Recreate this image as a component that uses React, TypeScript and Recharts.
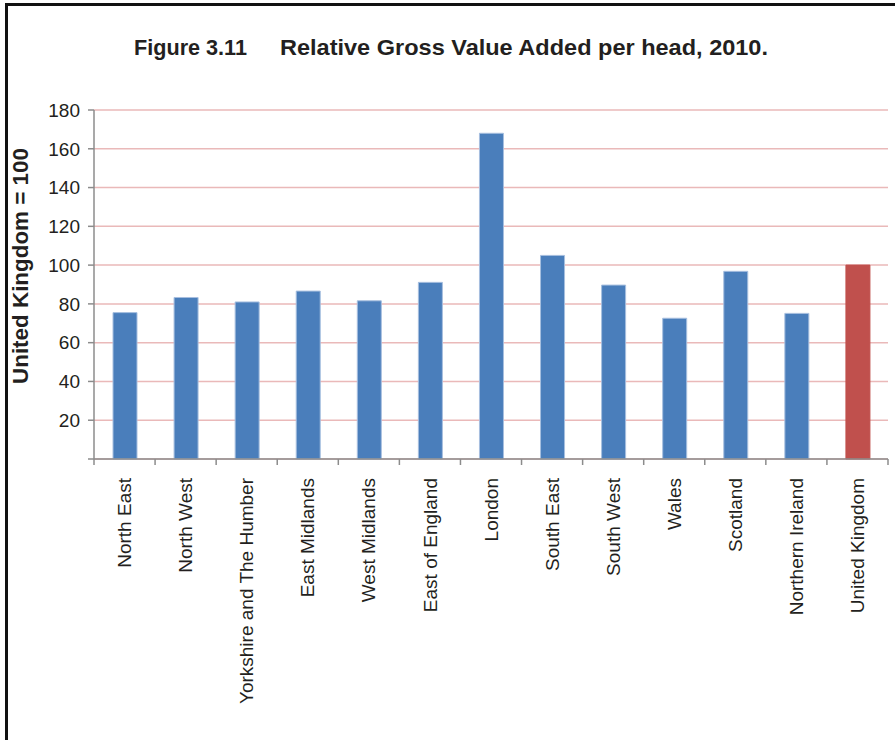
import React from 'react';
import { BarChart, Bar, XAxis, YAxis, CartesianGrid, Cell } from 'recharts';

const regions = [
  'North East',
  'North West',
  'Yorkshire and The Humber',
  'East Midlands',
  'West Midlands',
  'East of England',
  'London',
  'South East',
  'South West',
  'Wales',
  'Scotland',
  'Northern Ireland',
  'United Kingdom',
];

const gvaPerHead = [75.5, 83.3, 81.0, 86.6, 81.6, 91.1, 168.0, 105.0, 89.7, 72.6, 96.8, 75.1, 100];

const yTicks = [0, 20, 40, 60, 80, 100, 120, 140, 160, 180];

const highlightRegion = 'United Kingdom';

const FONT = '"Liberation Sans", Arial, Helvetica, sans-serif';
const BLUE = '#4a7ebb';
const RED = '#c0504d';
const AXIS = '#8c8c8c';
const TICK_SIZE = 6;
const TICK_MARGIN = 2;

const RegionTick = (props: any) => {
  const { x, y, payload, index, visibleTicksCount } = props;
  const half = payload && typeof payload.offset === 'number' ? payload.offset : 0;
  const axisY = y - TICK_SIZE - TICK_MARGIN;
  const isLast = index === (visibleTicksCount ?? regions.length) - 1;
  return (
    <g>
      {half > 0 && (
        <line
          x1={x - half}
          x2={x - half}
          y1={axisY}
          y2={axisY + TICK_SIZE}
          stroke={AXIS}
          strokeWidth={1.5}
        />
      )}
      {half > 0 && isLast && (
        <line
          x1={x + half}
          x2={x + half}
          y1={axisY}
          y2={axisY + TICK_SIZE}
          stroke={AXIS}
          strokeWidth={1.5}
        />
      )}
      <text
        x={x}
        y={y}
        transform={`rotate(-90, ${x}, ${y})`}
        textAnchor="end"
        dx={-11}
        dy="0.35em"
        fontSize={19}
        fontFamily={FONT}
        fill="#231f20"
      >
        {payload.value}
      </text>
    </g>
  );
};

export default function App() {
  const data = regions.map((region, i) => ({ region, value: gvaPerHead[i] }));

  return (
    <div
      style={{
        position: 'absolute',
        left: 0,
        top: 0,
        width: 895,
        height: 740,
        background: '#fff',
        overflow: 'hidden',
        fontFamily: FONT,
      }}
    >
      <div
        style={{
          position: 'absolute',
          left: 5,
          top: 3,
          width: 900,
          height: 750,
          borderLeft: '3px solid #111',
          borderTop: '3px solid #111',
          boxSizing: 'border-box',
        }}
      />
      <svg style={{ position: 'absolute', left: 0, top: 0 }} width={895} height={740}>
        <text
          x={134}
          y={55}
          fontSize={21.5}
          fontWeight="bold"
          fontFamily={FONT}
          fill="#231f20"
          textLength={113}
          lengthAdjust="spacingAndGlyphs"
        >
          Figure 3.11
        </text>
        <text
          x={280}
          y={55}
          fontSize={21.5}
          fontWeight="bold"
          fontFamily={FONT}
          fill="#231f20"
          textLength={488}
          lengthAdjust="spacingAndGlyphs"
        >
          Relative Gross Value Added per head, 2010.
        </text>
        <text
          transform="translate(28,266) rotate(-90)"
          textAnchor="middle"
          fontSize={21.5}
          fontWeight="bold"
          fontFamily={FONT}
          fill="#231f20"
          textLength={236}
          lengthAdjust="spacingAndGlyphs"
        >
          United Kingdom = 100
        </text>
      </svg>
      <div style={{ position: 'absolute', left: 0, top: 0 }}>
        <BarChart
          width={895}
          height={740}
          data={data}
          margin={{ top: 110, right: 7, bottom: 280, left: 34 }}
        >
          <CartesianGrid
            horizontal
            vertical={false}
            stroke="#eab9b9"
            strokeWidth={1.5}
          />
          <XAxis
            dataKey="region"
            height={1}
            axisLine={{ stroke: AXIS, strokeWidth: 1.5 }}
            tickLine={false}
            tickSize={TICK_SIZE}
            tickMargin={TICK_MARGIN}
            interval={0}
            tick={<RegionTick />}
          />
          <YAxis
            width={60}
            domain={[0, 180]}
            ticks={yTicks}
            interval={0}
            tickSize={6}
            tickMargin={8}
            tickFormatter={(v: number) => (v === 0 ? '' : String(v))}
            axisLine={{ stroke: AXIS, strokeWidth: 1.5 }}
            tickLine={{ stroke: AXIS, strokeWidth: 1.5 }}
            tick={{ fontSize: 19, fontFamily: FONT, fill: '#231f20' }}
          />
          <Bar dataKey="value" barSize={24} isAnimationActive={false}>
            {data.map((d) => (
              <Cell
                key={d.region}
                fill={d.region === highlightRegion ? RED : BLUE}
                stroke={d.region === highlightRegion ? RED : '#a7bfdf'}
                strokeWidth={1}
              />
            ))}
          </Bar>
        </BarChart>
      </div>
    </div>
  );
}
